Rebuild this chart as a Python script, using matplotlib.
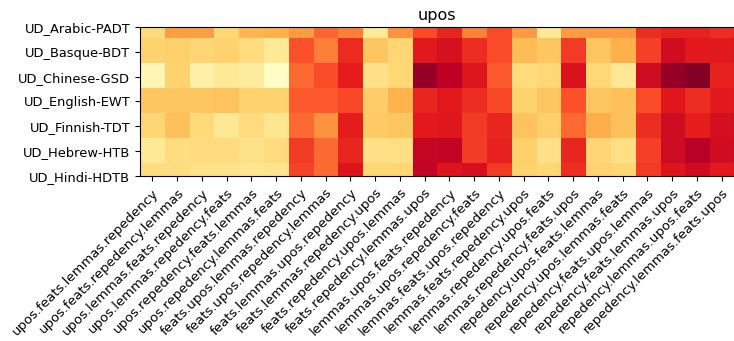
import numpy as np
import matplotlib
matplotlib.use("Agg")
import matplotlib.pyplot as plt

treebanks = ["UD_Arabic-PADT", "UD_Basque-BDT", "UD_Chinese-GSD", "UD_English-EWT",
             "UD_Finnish-TDT", "UD_Hebrew-HTB", "UD_Hindi-HDTB"]

orders = [
    "upos.feats.lemmas.repedency", "upos.feats.repedency.lemmas",
    "upos.lemmas.feats.repedency", "upos.lemmas.repedency.feats",
    "upos.repedency.feats.lemmas", "upos.repedency.lemmas.feats",
    "feats.upos.lemmas.repedency", "feats.upos.repedency.lemmas",
    "feats.lemmas.upos.repedency", "feats.lemmas.repedency.upos",
    "feats.repedency.upos.lemmas", "feats.repedency.lemmas.upos",
    "lemmas.upos.feats.repedency", "lemmas.upos.repedency.feats",
    "lemmas.feats.upos.repedency", "lemmas.feats.repedency.upos",
    "lemmas.repedency.upos.feats", "lemmas.repedency.feats.upos",
    "repedency.upos.feats.lemmas", "repedency.upos.lemmas.feats",
    "repedency.feats.upos.lemmas", "repedency.feats.lemmas.upos",
    "repedency.lemmas.upos.feats", "repedency.lemmas.feats.upos",
]

# relative score per treebank / task order
arabic  = [0.23, 0.44, 0.44, 0.25, 0.36, 0.38, 0.45, 0.58, 0.53, 0.15, 0.48, 0.63,
           0.72, 0.52, 0.63, 0.46, 0.16, 0.46, 0.46, 0.46, 0.70, 0.73, 0.73, 0.70]
basque  = [0.27, 0.28, 0.26, 0.27, 0.23, 0.15, 0.62, 0.53, 0.71, 0.31, 0.26, 0.75,
           0.79, 0.70, 0.63, 0.34, 0.31, 0.67, 0.31, 0.38, 0.66, 0.81, 0.75, 0.75]
chinese = [0.07, 0.27, 0.10, 0.15, 0.13, 0.02, 0.57, 0.63, 0.74, 0.20, 0.25, 0.95,
           0.87, 0.77, 0.60, 0.23, 0.25, 0.78, 0.25, 0.16, 0.82, 0.95, 0.99, 0.73]
english = [0.31, 0.31, 0.31, 0.32, 0.27, 0.27, 0.60, 0.60, 0.64, 0.29, 0.37, 0.72,
           0.75, 0.70, 0.64, 0.27, 0.31, 0.62, 0.31, 0.33, 0.63, 0.76, 0.70, 0.75]
finnish = [0.26, 0.33, 0.24, 0.16, 0.23, 0.17, 0.57, 0.48, 0.74, 0.30, 0.31, 0.75,
           0.76, 0.67, 0.72, 0.32, 0.28, 0.57, 0.39, 0.33, 0.70, 0.82, 0.74, 0.80]
hebrew  = [0.15, 0.22, 0.23, 0.23, 0.19, 0.23, 0.67, 0.57, 0.72, 0.20, 0.21, 0.84,
           0.85, 0.67, 0.73, 0.28, 0.20, 0.72, 0.26, 0.21, 0.66, 0.82, 0.88, 0.81]
hindi   = [0.22, 0.22, 0.19, 0.19, 0.17, 0.18, 0.65, 0.57, 0.77, 0.26, 0.26, 0.85,
           0.77, 0.80, 0.67, 0.27, 0.26, 0.70, 0.27, 0.26, 0.67, 0.77, 0.82, 0.75]

data = np.array([arabic, basque, chinese, english, finnish, hebrew, hindi])

fig = plt.figure(figsize=(7.34, 3.41), dpi=100)
ax = fig.add_axes([0.1907, 0.484, 0.8093, 0.437])
ax.imshow(data, cmap="YlOrRd", aspect="auto", vmin=0, vmax=1)
ax.set_xticks(np.arange(len(orders)))
ax.set_xticklabels(orders, rotation=45, ha="right", rotation_mode="anchor", fontsize=9.5)
ax.set_yticks(np.arange(len(treebanks)))
ax.set_yticklabels(treebanks, fontsize=9.4)
ax.tick_params(axis="x", pad=4)
ax.set_ylim(len(treebanks) - 1, 0)
ax.set_title("upos", fontsize=11.5, pad=5)

fig.savefig("out.png", dpi=100)
